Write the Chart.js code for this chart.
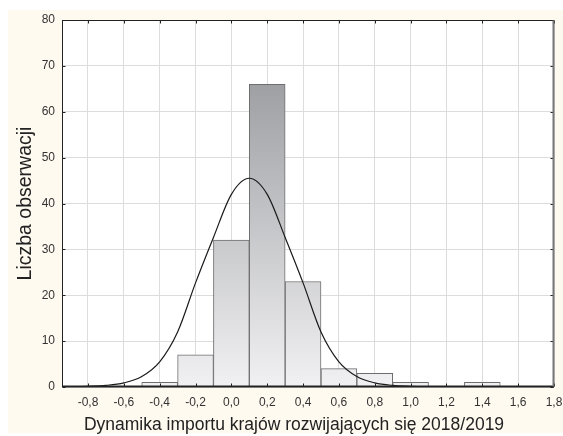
<!DOCTYPE html>
<html>
<head>
<meta charset="utf-8">
<script src="https://cdn.jsdelivr.net/npm/chart.js@4.4.0/dist/chart.umd.min.js"></script>
<style>
    html, body { margin: 0; padding: 0; background: #fff; }
    canvas { display: block; }
</style>
</head>
<body>
<canvas id="histChart" width="563" height="436"></canvas>
<script>
// histogram bins (centre of each 0.2-wide class) and counts
const binCenters = [-0.4, -0.2, 0.0, 0.2, 0.4, 0.6, 0.8, 1.0, 1.2, 1.4];
const counts = [1, 7, 32, 66, 23, 4, 3, 1, 0, 1];

// fitted normal curve
const curveX = [-1.0, -0.9, -0.8, -0.7, -0.6, -0.5, -0.4, -0.3, -0.2, -0.1, 0.0, 0.1, 0.2, 0.3, 0.4,
                0.5, 0.6, 0.7, 0.8, 0.9, 1.0, 1.1, 1.2, 1.3, 1.4, 1.5, 1.6, 1.7, 1.8];
const curveY = [0, 0.05, 0.15, 0.35, 0.9, 2.3, 5.5, 12.0, 22.7, 32.6, 42.0, 45.5, 42.0, 32.6, 22.7,
                12.0, 5.5, 2.3, 0.9, 0.35, 0.15, 0.05, 0, 0, 0, 0, 0, 0, 0];

// axis ticks
const xTicks = [-0.8, -0.6, -0.4, -0.2, 0.0, 0.2, 0.4, 0.6, 0.8, 1.0, 1.2, 1.4, 1.6, 1.8];
const yTicks = [0, 10, 20, 30, 40, 50, 60, 70, 80];

const xTitle = 'Dynamika importu krajów rozwijających się 2018/2019';
const yTitle = 'Liczba obserwacji';

const fontFamily = "'Liberation Sans', Arial, sans-serif";
const textColor = '#333';
const gridColor = '#dcdcdc';

// cream page + white plot area, frame with inner tick marks
const framePlugin = {
    id: 'frame',
    beforeDraw(chart) {
        const { ctx, chartArea: a } = chart;
        ctx.save();
        ctx.fillStyle = '#fffaf0';
        ctx.fillRect(8, 10, chart.width - 8, 423);
        ctx.fillStyle = '#fff';
        ctx.fillRect(a.left, a.top, a.right - a.left, a.bottom - a.top);
        ctx.restore();
    },
    afterDraw(chart) {
        const { ctx, chartArea: a, scales } = chart;
        const L = Math.round(a.left) + 0.5, R = Math.round(a.right) - 0.5;
        const T = Math.round(a.top) + 0.5, B = Math.round(a.bottom) - 0.5;
        ctx.save();
        ctx.strokeStyle = '#222';
        ctx.lineWidth = 1;
        ctx.beginPath();
        scales.x.ticks.forEach(t => {
            const px = Math.round(scales.x.getPixelForValue(t.value)) + 0.5;
            ctx.moveTo(px, B); ctx.lineTo(px, B - 3);
            ctx.moveTo(px, T); ctx.lineTo(px, T + 3);
        });
        scales.y.ticks.forEach(t => {
            const py = Math.round(scales.y.getPixelForValue(t.value)) + 0.5;
            ctx.moveTo(L, py); ctx.lineTo(L + 3, py);
            ctx.moveTo(R, py); ctx.lineTo(R - 3, py);
        });
        ctx.stroke();
        ctx.strokeRect(L, T, R - L, B - T);
        ctx.lineWidth = 2;
        ctx.beginPath();
        ctx.moveTo(L, B); ctx.lineTo(R + 0.5, B);
        ctx.stroke();
        ctx.strokeStyle = '#777';
        ctx.beginPath();
        ctx.moveTo(R, T); ctx.lineTo(R, B);
        ctx.stroke();
        ctx.restore();
    }
};

// grey gradient running from value 0 (light) up to the tallest bar (dark)
function barFill(context) {
    const chart = context.chart;
    if (!chart.chartArea) return '#ddd';
    const y = chart.scales.y;
    const g = chart.ctx.createLinearGradient(0, y.getPixelForValue(0), 0, y.getPixelForValue(Math.max(...counts)));
    g.addColorStop(0, '#f1f1f3');
    g.addColorStop(1, '#9fa0a4');
    return g;
}

const fmt = v => v.toFixed(1).replace('.', ',');

new Chart(document.getElementById('histChart'), {
    type: 'bar',
    data: {
        datasets: [
            {
                type: 'line',
                data: curveX.map((x, i) => ({ x: x, y: curveY[i] })),
                borderColor: '#1a1a1a',
                borderWidth: 1.2,
                pointRadius: 0,
                cubicInterpolationMode: 'monotone',
                fill: false,
                order: 0
            },
            {
                type: 'bar',
                data: binCenters.map((x, i) => ({ x: x, y: counts[i] })),
                backgroundColor: barFill,
                borderColor: '#6e6e6e',
                borderWidth: 1,
                borderSkipped: 'bottom',
                barPercentage: 1,
                categoryPercentage: 1,
                order: 1
            }
        ]
    },
    options: {
        responsive: false,
        animation: false,
        layout: { padding: { left: 34, right: 9, top: 20, bottom: 0 } },
        plugins: {
            legend: { display: false },
            tooltip: { enabled: false },
            subtitle: {
                display: true,
                position: 'bottom',
                text: xTitle,
                color: '#222',
                font: { family: fontFamily, size: 17.5, weight: 'normal', lineHeight: 1.2 },
                padding: 0
            }
        },
        scales: {
            x: {
                type: 'linear',
                offset: false,
                min: -0.945,
                max: 1.8,
                afterBuildTicks: s => { s.ticks = xTicks.map(v => ({ value: v })); },
                afterFit: s => { s.height = 28; s.paddingLeft = 0; s.paddingRight = 0; },
                grid: { color: gridColor, lineWidth: 1, drawTicks: false, offset: false },
                border: { display: false },
                ticks: {
                    color: textColor,
                    padding: 8,
                    maxRotation: 0,
                    autoSkip: false,
                    font: { family: fontFamily, size: 12 },
                    callback: v => fmt(v)
                }
            },
            y: {
                min: 0,
                max: 80,
                afterBuildTicks: s => { s.ticks = yTicks.map(v => ({ value: v })); },
                afterFit: s => { s.width = 28; s.paddingTop = 0; s.paddingBottom = 0; },
                grid: { color: gridColor, lineWidth: 1, drawTicks: false },
                border: { display: false },
                ticks: {
                    color: textColor,
                    padding: 7,
                    font: { family: fontFamily, size: 12 }
                },
                title: {
                    display: true,
                    text: yTitle,
                    color: '#222',
                    font: { family: fontFamily, size: 19.5, lineHeight: 1.2 },
                    padding: { top: -20.5, bottom: 0 }
                }
            }
        }
    },
    plugins: [framePlugin]
});
</script>
</body>
</html>
